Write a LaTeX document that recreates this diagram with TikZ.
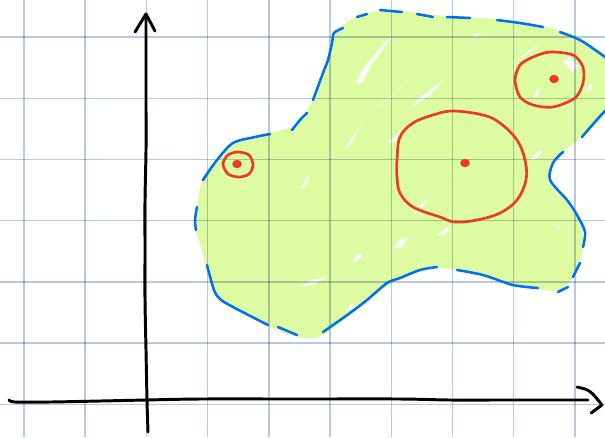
\documentclass[tikz,border=0pt]{standalone}
\usepackage{tikz}
\usetikzlibrary{positioning,calc,shapes.geometric}
\definecolor{gridblue}{RGB}{186,199,226}
\definecolor{blobgreen}{RGB}{221,251,160}
\definecolor{penblue}{RGB}{0,112,240}
\definecolor{penred}{RGB}{236,58,40}
\begin{document}
\begin{tikzpicture}[
  x=0.025cm, y=-0.025cm,
  gridline/.style={gridblue, line width=1pt},
  blueline/.style={penblue, line width=1.8pt, line cap=round},
  redline/.style={penred, line width=1.9pt, line cap=round},
  axisline/.style={black, line width=2.1pt, line cap=round, line join=round},
  streak/.style={fill=white, draw=none},
  dot/.style={ellipse, fill=penred, inner sep=0pt, minimum width=0.24cm, minimum height=0.21cm}
]
\clip (0,0) rectangle (605,437);
\fill[white] (0,0) rectangle (605,437);

% green region
\fill[blobgreen] plot[smooth cycle, tension=0.55] coordinates {
  (300,120) (313,100) (323,73) (332,43) (343,25) (367,13) (402,11) (433,15)
  (470,17) (543,26) (598,50) (625,80) (605,114) (582,137) (560,155) (548,180)
  (565,200) (580,225) (583,247) (576,272) (560,290) (538,289) (483,276)
  (437,268) (400,279) (367,301) (323,335) (297,337) (268,326) (233,308)
  (212,287) (202,250) (196,225) (202,180) (217,159) (240,141) (270,133) (292,127)};

% white marks in the fill
\fill[streak] (356,84) -- (362,70) -- (385,42) -- (394,34) -- (372,64) -- (362,83) -- cycle;
\fill[streak] (408,110) -- (420,98) -- (444,79) -- (430,95) -- cycle;
\fill[streak] (344,150) -- (355,133) -- (363,122) -- (350,145) -- cycle;
\fill[streak] (366,115) -- (395,93) -- (413,76) -- (390,98) -- cycle;
\fill[streak] (510,66) -- (530,50) -- (542,43) -- (522,58) -- cycle;
\fill[streak] (563,62) -- (570,57) -- (578,67) -- (572,72) -- cycle;
\fill[streak] (533,98) -- (537,90) -- (541,87) -- (537,97) -- cycle;
\fill[streak] (586,92) -- (591,83) -- (592,90) -- cycle;
\fill[streak] (388,143) -- (398,134) -- (402,133) -- (394,142) -- cycle;
\fill[streak] (413,213) -- (425,200) -- (427,202) -- (418,212) -- cycle;
\fill[streak] (530,160) -- (540,150) -- (542,152) -- (534,160) -- cycle;
\fill[streak] (473,36) -- (478,33) -- (481,34) -- (476,37) -- cycle;
\fill[streak] (300,188) -- (308,176) -- (310,175) -- (304,188) -- cycle;
\fill[streak] (437,235) -- (447,227) -- (451,229) -- (443,235) -- cycle;
\fill[streak] (393,248) -- (400,240) -- (408,237) -- (402,247) -- cycle;
\fill[streak] (352,261) -- (358,253) -- (362,255) -- (356,262) -- cycle;
\fill[streak] (300,287) -- (312,280) -- (327,277) -- (315,284) -- cycle;
\fill[streak] (345,310) -- (352,304) -- (356,306) -- (350,310) -- cycle;
\fill[streak] (557,223) -- (558,230) -- (560,228) -- cycle;

% grid
\begin{scope}[blend mode=multiply]
\foreach \gx in {24,85.2,146.4,207.6,268.8,330,391.2,452.4,513.6,574.8}
  \draw[gridline] (\gx,0) -- (\gx,437);
\foreach \gy in {37,98.2,159.4,220.6,281.8,343,404.2}
  \draw[gridline] (0,\gy) -- (605,\gy);
\end{scope}

% dashed outline, drawn piece by piece
\draw[blueline] plot[smooth] coordinates {(307,113) (300,120) (292,130)};
\draw[blueline] plot[smooth] coordinates {(343,28) (334,33) (332,43) (328,60) (323,73) (313,100)};
\draw[blueline] plot[smooth] coordinates {(357,17) (367,14)};
\draw[blueline] plot[smooth] coordinates {(380,10) (402,12)};
\draw[blueline] plot[smooth] coordinates {(417,14) (433,17)};
\draw[blueline] plot[smooth] coordinates {(447,17) (470,18)};
\draw[blueline] plot[smooth] coordinates {(497,20) (520,23) (543,27)};
\draw[blueline] plot[smooth] coordinates {(560,32) (580,40) (598,52) (612,62)};
\draw[blueline] plot[smooth] coordinates {(615,103) (603,113) (582,137)};
\draw[blueline] plot[smooth] coordinates {(563,152) (553,163) (550,180) (567,200) (577,215) (585,232) (583,247)};
\draw[blueline] plot[smooth] coordinates {(580,263) (573,277)};
\draw[blueline] plot[smooth] coordinates {(568,287) (558,292)};
\draw[blueline] plot[smooth] coordinates {(538,288) (513,285) (483,275) (457,270)};
\draw[blueline] plot[smooth] coordinates {(437,267) (420,270) (400,278) (387,283) (367,300) (350,313) (323,332)};
\draw[blueline] plot[smooth] coordinates {(297,335) (278,327)};
\draw[blueline] plot[smooth] coordinates {(268,325) (233,307) (220,299) (214,290) (207,265)};
\draw[blueline] plot[smooth] coordinates {(196,230) (195,220) (197,207)};
\draw[blueline] plot[smooth] coordinates {(203,180) (217,160) (233,143) (255,137) (270,134)};

% red rings and centres
\draw[redline] plot[smooth cycle] coordinates {
  (223,164) (228,155) (238,152) (249,155) (253,165) (249,174) (239,177) (228,174)};
\draw[redline] plot[smooth cycle, tension=0.6] coordinates {
  (397,160) (400,137) (413,123) (433,115) (453,111) (483,115) (500,123) (517,140)
  (525,160) (526,180) (517,200) (500,213) (477,220) (455,222) (440,217) (413,207)
  (400,193) (397,177)};
\draw[redline] plot[smooth cycle] coordinates {
  (515,80) (520,65) (533,57) (550,52) (573,55) (583,67) (583,83) (575,98)
  (553,107) (533,105) (520,97)};
\node[dot] (pleft)  at (237,164) {};
\node[dot] (pbig)   at (465,163) {};
\node[dot] (pright) at (554,79)  {};

% axes
\coordinate (ytop) at (146,14);
\coordinate (xend) at (602,405);
\draw[axisline] plot[smooth] coordinates {(148,432) (147,400) (146,350) (145,300)
  (145,250) (145,200) (146,150) (146,100) (146,50) (ytop)};
\draw[axisline] (135,32) -- (ytop) -- (155,31);
\draw[axisline] plot[smooth] coordinates {(9,400) (15,402) (50,402) (100,401)
  (146,400) (200,399) (300,399) (400,399) (450,400) (500,400) (588,400)};
\draw[axisline] (577,387) .. controls (590,390) .. (xend) -- (591,413);
\end{tikzpicture}
\end{document}
